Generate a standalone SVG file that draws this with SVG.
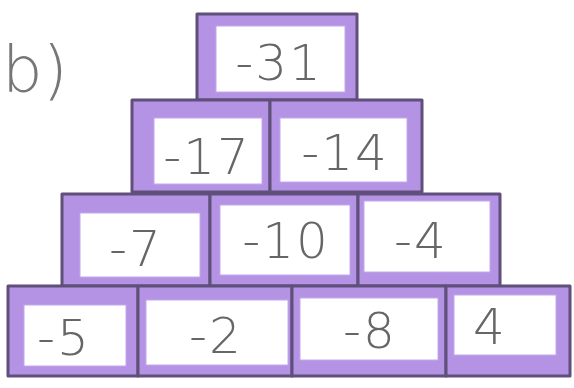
<svg xmlns="http://www.w3.org/2000/svg" width="574" height="388" viewBox="0 0 574 388">
<style>
.o{fill:#b593e4;stroke:#5f4f7a;stroke-width:3;stroke-linejoin:round}
.i{fill:#ffffff;stroke:#c4a8ec;stroke-width:1}
.t{font-family:"DejaVu Sans",sans-serif;font-size:50px;font-weight:200;fill:#666666;text-anchor:middle;letter-spacing:2px}
</style>
<rect width="574" height="388" fill="#ffffff"/>
<text x="2" y="92" style="font-family:'DejaVu Sans',sans-serif;font-size:64px;font-weight:200;fill:#777777">b)</text>
<g id="b31"><rect class="o" x="197" y="14" width="160" height="86"/><rect class="i" x="216" y="26" width="129" height="66"/><text class="t" x="279" y="80">-31</text></g>
<g id="b17"><rect class="o" x="132" y="100" width="138" height="92"/><rect class="i" x="154" y="118" width="108" height="66"/><text class="t" x="207" y="174">-17</text></g>
<g id="b14"><rect class="o" x="270" y="100" width="152" height="92"/><rect class="i" x="280" y="118" width="127" height="64"/><text class="t" x="345" y="170">-14</text></g>
<g id="b7"><rect class="o" x="62" y="194" width="148" height="92"/><rect class="i" x="80" y="213" width="120" height="64"/><text class="t" x="136" y="266">-7</text></g>
<g id="b10"><rect class="o" x="210" y="194" width="148" height="92"/><rect class="i" x="220" y="205" width="130" height="70"/><text class="t" x="286" y="258">-10</text></g>
<g id="b4a"><rect class="o" x="358" y="194" width="142" height="92"/><rect class="i" x="364" y="201" width="126" height="71"/><text class="t" x="421" y="258">-4</text></g>
<g id="b5"><rect class="o" x="8" y="286" width="130" height="90"/><rect class="i" x="24" y="305" width="102" height="61"/><text class="t" x="64" y="355">-5</text></g>
<g id="b2"><rect class="o" x="138" y="286" width="154" height="90"/><rect class="i" x="146" y="300" width="142" height="65"/><text class="t" x="216" y="353">-2</text></g>
<g id="b8"><rect class="o" x="292" y="286" width="154" height="90"/><rect class="i" x="300" y="298" width="138" height="62"/><text class="t" x="370" y="348">-8</text></g>
<g id="b4b"><rect class="o" x="446" y="286" width="124" height="90"/><rect class="i" x="454" y="295" width="102" height="60"/><text class="t" x="490" y="344">4</text></g>
</svg>
